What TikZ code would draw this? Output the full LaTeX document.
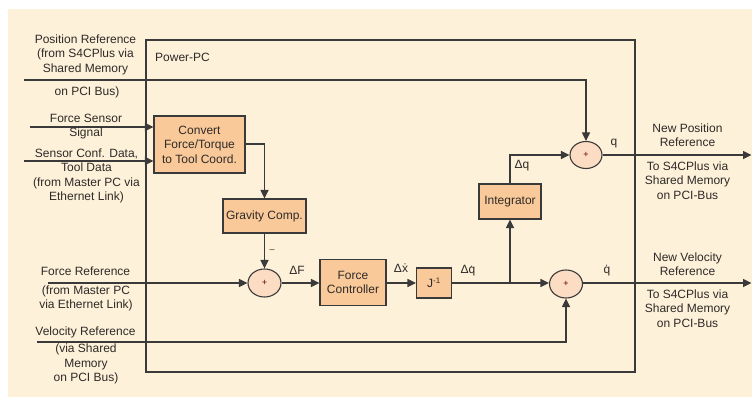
\documentclass[tikz,border=0pt]{standalone}
\usepackage{fontspec}
\setmainfont{Liberation Sans}
\usetikzlibrary{shapes.geometric,arrows.meta}
\definecolor{paper}{HTML}{FEF1D9}
\definecolor{boxfill}{HTML}{F9C999}
\definecolor{sumfill}{HTML}{FCDDC3}
\definecolor{ink}{HTML}{3A3A3A}
\definecolor{txt}{HTML}{2E2A28}
\tikzset{
  blk/.style={draw=ink, line width=1.1pt, fill=boxfill, align=center, inner sep=2pt,
              text=txt, font=\fontsize{12}{14.5}\selectfont},
  sumnode/.style={ellipse, draw=ink, line width=1.1pt, fill=sumfill, inner sep=0pt,
              minimum width=33pt, minimum height=28pt, text=black!60!red,
              font=\fontsize{9}{9}\selectfont},
  lbl/.style={align=center, text=txt, inner sep=0pt, font=\fontsize{12}{14.5}\selectfont},
  conn/.style={draw=ink, line width=1.1pt},
  arr/.style={conn, -{Triangle[length=8.5pt,width=8pt]}},
}
\begin{document}
\begin{tikzpicture}[x=1pt,y=-1pt]
  % page and backdrop
  \useasboundingbox (0,0) rectangle (752,398);
  \fill[paper] (8,9) rectangle (752,397);

  % processor frame
  \draw[conn] (146,40) rectangle (635,372);
  \node[lbl, anchor=west] (ppc) at (155,57) {Power-PC};

  % blocks
  \node[blk, minimum width=91pt, minimum height=57pt] (conv) at (199.5,144.5)
       {Convert\\Force/Torque\\to Tool Coord.};
  \node[blk, minimum width=83pt, minimum height=34pt] (grav) at (264.5,216) {Gravity Comp.};
  \node[blk, minimum width=66pt, minimum height=46pt] (fc) at (353,282.5) {Force\\Controller};
  \node[blk, minimum width=35pt, minimum height=30pt] (jinv) at (434,283) {J\textsuperscript{-1}};
  \node[blk, minimum width=62pt, minimum height=35pt] (integ) at (510,201.5) {Integrator};

  % summing junctions
  \node[sumnode] (s1) at (264.5,283) {+};
  \node[sumnode] (s2) at (566,284) {+};
  \node[sumnode, minimum width=32pt, minimum height=27pt] (s3) at (586,155) {+};

  % signal ends
  \coordinate (posin) at (24,80);
  \coordinate (poscorner) at (586,80);
  \coordinate (fsin) at (30,127);
  \coordinate (scin) at (24,161);
  \coordinate (frin) at (48,283);
  \coordinate (vrin) at (37,342);
  \coordinate (branch) at (510,283);
  \coordinate (qout) at (751.5,155);
  \coordinate (qdout) at (751.5,283);

  % connectors
  \draw[arr] (posin) -- (poscorner) -- (s3.north);
  \draw[arr] (fsin) -- (fsin -| conv.west);
  \draw[arr] (scin) -- (scin -| conv.west);
  \draw[arr] (conv.east |- 0,144) -| (grav.north);
  \draw[arr] (grav.south) -- (s1.north);
  \draw[arr] (frin) -- (s1.west);
  \draw[arr] (s1.east) -- (fc.west |- s1.east);
  \draw[arr] (fc.east |- jinv.west) -- (jinv.west);
  \draw[arr] (jinv.east) -- (s2.west |- jinv.east);
  \draw[arr] (branch) -- (integ.south);
  \draw[arr] (integ.north) |- (s3.west);
  \draw[arr] (s3.east) -- (qout);
  \draw[arr] (s2.east |- qdout) -- (qdout);
  \draw[arr] (vrin) -| (s2.south);

  % signal labels
  \node[lbl] (dF) at (297,270.5) {ΔF};
  \node[lbl] (dx) at (401,268) {Δẋ};
  \node[lbl] (dqd) at (468,271) {Δq̇};
  \node[lbl] (dq) at (522,166) {Δq};
  \node[lbl] (q) at (614,144) {q};
  \node[lbl] (qd) at (607,271) {q̇};
  \node[lbl] (minus) at (272,251.5) {\fontsize{9}{9}\selectfont –};

  % inputs
  \node[lbl] (posref) at (85.5,54.5) {Position Reference\\(from S4CPlus via\\Shared Memory};
  \node[lbl] (posbus) at (87,92) {on PCI Bus)};
  \node[lbl] (fsref) at (86,126.5) {Force Sensor\\Signal};
  \node[lbl] (scref) at (86.5,176) {Sensor Conf. Data,\\Tool Data\\(from Master PC via\\Ethernet Link)};
  \node[lbl] (frref) at (85.5,271.5) {Force Reference};
  \node[lbl] (frsrc) at (86,298.5) {(from Master PC\\via Ethernet Link)};
  \node[lbl] (vrref) at (85.5,332) {Velocity Reference};
  \node[lbl] (vrsrc) at (86,364) {(via Shared\\Memory\\on PCI Bus)};

  % outputs
  \node[lbl] (npos) at (687.5,135) {New Position\\Reference};
  \node[lbl] (nposdst) at (687.5,180.5) {To S4CPlus via\\Shared Memory\\on PCI-Bus};
  \node[lbl] (nvel) at (687.5,264) {New Velocity\\Reference};
  \node[lbl] (nveldst) at (687.5,308.5) {To S4CPlus via\\Shared Memory\\on PCI-Bus};
\end{tikzpicture}
\end{document}
